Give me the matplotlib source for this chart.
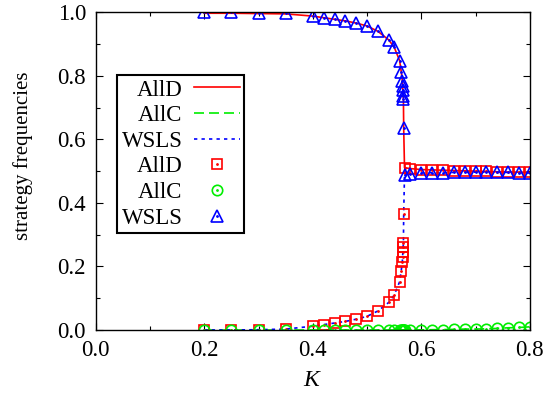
import matplotlib
matplotlib.use("Agg")
import matplotlib.pyplot as plt
from matplotlib.legend_handler import HandlerTuple
from matplotlib.ticker import MultipleLocator, FormatStrFormatter

plt.rcParams['font.family'] = ['Liberation Serif', 'DejaVu Serif']
plt.rcParams['mathtext.fontset'] = 'custom'
plt.rcParams['mathtext.it'] = 'Liberation Serif:italic'

# ---- marker data (simulation points) ----
K = [0.2, 0.25, 0.3, 0.35, 0.4, 0.42, 0.44, 0.46, 0.48, 0.5, 0.52, 0.54, 0.55,
     0.56, 0.563, 0.565, 0.5655, 0.566, 0.5665, 0.567, 0.5675, 0.569, 0.58,
     0.6, 0.62, 0.64, 0.66, 0.68, 0.7, 0.72, 0.74, 0.76, 0.78, 0.8]
alld = [0.0, 0.0, 0.001, 0.003, 0.012, 0.017, 0.022, 0.027, 0.034, 0.043, 0.060,
        0.087, 0.110, 0.152, 0.187, 0.215, 0.231, 0.246, 0.262, 0.273, 0.365,
        0.511, 0.508, 0.505, 0.504, 0.503, 0.502, 0.501, 0.500, 0.499, 0.498,
        0.497, 0.497, 0.496]
allc = [0.0, 0.0, 0.0, 0.0, 0.0, 0.0, 0.0, 0.0, 0.0, 0.0, 0.0, 0.0, 0.0,
        0.0, 0.0, 0.0, 0.0, 0.0, 0.0, 0.0, 0.0, 0.0, 0.0,
        0.0005, 0.001, 0.0015, 0.002, 0.003, 0.003, 0.004, 0.005, 0.007, 0.008, 0.010]
wsls = [1.0, 1.0, 0.999, 0.997, 0.988, 0.983, 0.978, 0.973, 0.966, 0.957, 0.940,
        0.913, 0.890, 0.848, 0.813, 0.785, 0.769, 0.754, 0.738, 0.727, 0.635,
        0.489, 0.492, 0.4945, 0.495, 0.4955, 0.496, 0.496, 0.497, 0.497, 0.497,
        0.496, 0.495, 0.494]

# ---- line data (theory curves) ----
line_K = K
line_alld = [0.997, 0.997, 0.996, 0.995, 0.988, 0.983, 0.978, 0.973, 0.966, 0.957,
             0.940, 0.913, 0.890, 0.848, 0.813, 0.785, 0.769, 0.754, 0.738, 0.727,
             0.635, 0.511, 0.508, 0.505, 0.504, 0.503, 0.502, 0.501, 0.500, 0.499,
             0.498, 0.497, 0.497, 0.496]
line_allc = allc
line_wsls = [0.0, 0.0, 0.001, 0.003, 0.012, 0.017, 0.022, 0.027, 0.034, 0.043,
             0.060, 0.087, 0.110, 0.152, 0.187, 0.215, 0.231, 0.246, 0.262, 0.273,
             0.365, 0.489, 0.492, 0.4945, 0.495, 0.4955, 0.496, 0.496, 0.497, 0.497,
             0.497, 0.496, 0.495, 0.494]

labels = ['AllD', 'AllC', 'WSLS']
red, green, blue = '#ff0000', '#00ee00', '#0000ff'

fig = plt.figure(figsize=(5.44, 3.94), dpi=100)
ax = fig.add_axes([0.176, 0.1624, 0.798, 0.8064])

lr, = ax.plot(line_K, line_alld, color=red, lw=1.2, ls='-')
lg, = ax.plot(line_K, line_allc, color=green, lw=1.2, ls=(0, (6, 3)))
lb, = ax.plot(line_K, line_wsls, color=blue, lw=1.2, ls=(0, (2, 2.5)))

ms = 7.5
mr, = ax.plot(K, alld, ls='none', marker='s', ms=ms, mfc='none', mec=red, mew=1.2)
mrd, = ax.plot(K, alld, ls='none', marker='.', ms=2, color=red)
mg, = ax.plot(K, allc, ls='none', marker='o', ms=ms, mfc='none', mec=green, mew=1.2)
mgd, = ax.plot(K, allc, ls='none', marker='.', ms=2, color=green)
mb, = ax.plot(K, wsls, ls='none', marker='^', ms=ms + 0.5, mfc='none', mec=blue, mew=1.2)
mbd, = ax.plot(K, wsls, ls='none', marker='.', ms=2, color=blue)

ax.set_xlim(0, 0.8)
ax.set_ylim(0, 1.0)
ax.xaxis.set_major_locator(MultipleLocator(0.2))
ax.xaxis.set_minor_locator(MultipleLocator(0.1))
ax.yaxis.set_major_locator(MultipleLocator(0.2))
ax.yaxis.set_minor_locator(MultipleLocator(0.1))
ax.xaxis.set_major_formatter(FormatStrFormatter('%.1f'))
ax.yaxis.set_major_formatter(FormatStrFormatter('%.1f'))
ax.tick_params(which='both', direction='in', top=True, right=True, labelsize=16.5)
ax.tick_params(which='major', length=5, width=0.8)
ax.tick_params(which='minor', length=3, width=0.8)
ax.tick_params(axis='x', pad=7)
ax.tick_params(axis='y', pad=7)
for s in ax.spines.values():
    s.set_linewidth(1.0)

ax.set_xlabel('$K$', fontsize=17)
ax.xaxis.set_label_coords(0.5, -0.158, transform=ax.transAxes)
ax.xaxis.label.set_va('center')
ax.set_ylabel('strategy frequencies', fontsize=15)
ax.yaxis.set_label_coords(-0.167, 0.548, transform=ax.transAxes)
ax.yaxis.label.set_va('center')

leg = ax.legend([lr, lg, lb, (mr, mrd), (mg, mgd), (mb, mbd)],
                labels + labels,
                handler_map={tuple: HandlerTuple(ndivide=1, pad=0)},
                loc='upper left', bbox_to_anchor=(0.049, 0.803), borderaxespad=0,
                markerfirst=False, fontsize=16.5, handlelength=2.0, labelspacing=0.2,
                handletextpad=0.5, borderpad=0.2, fancybox=False, framealpha=1,
                edgecolor='black')
leg.get_frame().set_linewidth(1.5)

fig.savefig('out.png', dpi=100)
